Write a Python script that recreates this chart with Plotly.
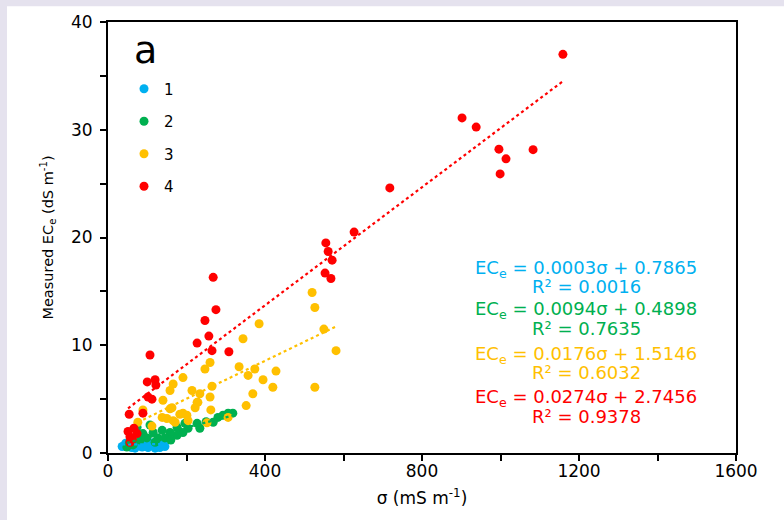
import plotly.graph_objects as go

# Group 1
sigma_1 = [36, 45, 51, 60, 69, 76, 87, 94, 102, 107, 115, 120, 127, 132, 140, 145]
ece_1 = [0.6, 0.9, 0.7, 0.5, 0.45, 0.8, 0.55, 0.85, 0.5, 0.7, 0.95, 0.45, 0.75, 0.5, 0.9, 0.6]

# Group 2
sigma_2 = [306, 318, 293, 280, 268, 227, 204, 191, 176, 158, 138, 115, 89, 99, 127, 145,
           82, 64, 48, 74, 107, 176, 234, 196, 250, 160, 55, 120]
ece_2 = [3.7, 3.7, 3.5, 3.3, 2.85, 2.75, 2.3, 1.9, 1.65, 1.9, 2.1, 1.9, 1.8, 1.4, 1.4, 1.4,
         1.2, 0.75, 0.55, 2.4, 2.6, 2.4, 2.3, 2.75, 2.9, 1.2, 1.0, 1.0]

# Group 3
sigma_3 = [520, 527, 550, 581, 527, 385, 344, 260, 247, 334, 374, 428, 357, 395, 420, 191,
           166, 265, 214, 158, 260, 369, 234, 229, 222, 352, 262, 163, 140, 183, 201, 166,
           252, 306, 89, 76, 112, 138, 204, 171, 158, 191, 227, 150]
ece_3 = [14.9, 13.5, 11.5, 9.5, 6.1, 12.0, 10.6, 8.4, 7.8, 8.0, 7.8, 7.6, 7.2, 6.8, 6.1, 7.0,
         6.4, 6.2, 5.8, 5.8, 5.2, 5.5, 5.5, 4.7, 4.2, 4.4, 4.0, 4.2, 4.9, 3.6, 3.5, 3.0,
         2.8, 3.3, 4.0, 2.85, 2.5, 3.3, 3.0, 2.85, 4.1, 3.7, 4.7, 3.2]

# Group 4
sigma_4 = [1159, 902, 938, 996, 1014, 1083, 999, 718, 627, 555, 561, 571, 553, 568, 268, 275,
           247, 257, 227, 265, 308, 107, 120, 100, 122, 112, 102, 54, 89, 51, 66, 56, 74, 56, 62]
ece_4 = [37.0, 31.1, 30.25, 28.2, 27.3, 28.15, 25.9, 24.6, 20.5, 19.5, 18.7, 17.9, 16.7, 16.2,
         16.3, 13.3, 12.3, 10.85, 10.2, 9.5, 9.4, 9.1, 6.8, 6.6, 6.3, 5.0, 5.2, 3.6, 3.7, 2.0,
         2.3, 1.5, 1.8, 1.0, 1.3]

group_names = ["1", "2", "3", "4"]
slopes = [0.0003, 0.0094, 0.0176, 0.0274]
intercepts = [0.7865, 0.4898, 1.5146, 2.7456]
r_squared = ["0.0016", "0.7635", "0.6032", "0.9378"]

x_tickvals = [0, 200, 400, 600, 800, 1000, 1200, 1400, 1600]
x_ticktext = ["0", "", "400", "", "800", "", "1200", "", "1600"]
y_tickvals = [0, 5, 10, 15, 20, 25, 30, 35, 40]
y_ticktext = ["0", "", "10", "", "20", "", "30", "", "40"]

colors = ["#00B0F0", "#00B050", "#FFC000", "#FF0000"]
FONT = "DejaVu Sans"

groups = [(sigma_1, ece_1), (sigma_2, ece_2), (sigma_3, ece_3), (sigma_4, ece_4)]

fig = go.Figure()

for i, (sx, sy) in enumerate(groups):
    fig.add_trace(go.Scatter(
        x=sx, y=sy, mode="markers", name=group_names[i], legendgroup=group_names[i],
        marker=dict(color=colors[i], size=9, line=dict(width=0)),
    ))

# Linear trendlines drawn over each group's sigma range
for i, (sx, sy) in enumerate(groups):
    x0, x1 = min(sx), max(sx)
    fig.add_trace(go.Scatter(
        x=[x0, x1],
        y=[slopes[i] * x0 + intercepts[i], slopes[i] * x1 + intercepts[i]],
        mode="lines", showlegend=False, hoverinfo="skip",
        line=dict(color=colors[i], width=2.2, dash="dot"),
    ))

# Equation labels
PLOT_L, PLOT_W, PLOT_B, PLOT_H = 108, 628, 453, 435
eq_x = (586 - PLOT_L) / PLOT_W
eq_rows = [(267, 285), (309, 327), (354, 372), (397, 416)]
annotations = []
for i, (y_eq, y_r2) in enumerate(eq_rows):
    annotations.append(dict(
        x=eq_x, y=(PLOT_B - y_eq) / PLOT_H, xref="paper", yref="paper",
        text=f"EC<sub>e</sub> = {slopes[i]:.4f}σ + {intercepts[i]:.4f}",
        showarrow=False, xanchor="center", yanchor="middle",
        font=dict(family=FONT, size=18, color=colors[i]),
    ))
    annotations.append(dict(
        x=eq_x, y=(PLOT_B - y_r2) / PLOT_H, xref="paper", yref="paper",
        text=f"R² = {r_squared[i]}",
        showarrow=False, xanchor="center", yanchor="middle",
        font=dict(family=FONT, size=18, color=colors[i]),
    ))

# Panel letter
annotations.append(dict(
    x=(145 - PLOT_L) / PLOT_W, y=(PLOT_B - 46) / PLOT_H, xref="paper", yref="paper",
    text="a", showarrow=False, xanchor="center", yanchor="middle",
    font=dict(family=FONT, size=38, color="black"),
))

axis_common = dict(
    showline=True, linecolor="black", linewidth=2, mirror=True,
    ticks="outside", ticklen=6, tickwidth=1.5, tickcolor="black",
    showgrid=False, zeroline=False,
    tickfont=dict(family=FONT, size=17, color="black"),
)

fig.update_layout(
    width=784, height=520,
    margin=dict(l=108, r=48, t=18, b=67),
    paper_bgcolor="#E5E2EE",
    plot_bgcolor="white",
    font=dict(family=FONT, color="black"),
    showlegend=True,
    legend=dict(
        x=(124 - PLOT_L) / PLOT_W, y=(PLOT_B - 69) / PLOT_H,
        xanchor="left", yanchor="top",
        font=dict(family=FONT, size=15, color="black"),
        bgcolor="rgba(0,0,0,0)", tracegroupgap=10, itemwidth=30,
    ),
    xaxis=dict(
        range=[0, 1600], tickvals=x_tickvals, ticktext=x_ticktext,
        ticklabelstandoff=-4,
        title=dict(text="σ (mS m<sup>-1</sup>)", font=dict(family=FONT, size=17), standoff=12),
        **axis_common,
    ),
    yaxis=dict(
        range=[0, 40], tickvals=y_tickvals, ticktext=y_ticktext,
        ticklabelstandoff=4,
        title=dict(text="Measured EC<sub>e</sub> (dS m<sup>-1</sup>)",
                   font=dict(family=FONT, size=14.5), standoff=14),
        **axis_common,
    ),
    annotations=annotations,
    shapes=[dict(
        type="rect", xref="paper", yref="paper", layer="below",
        x0=(7 - PLOT_L) / PLOT_W, x1=(790 - PLOT_L) / PLOT_W,
        y0=(PLOT_B - 530) / PLOT_H, y1=(PLOT_B - 2) / PLOT_H,
        fillcolor="white", line=dict(width=0),
    )],
)

fig.write_html("out.html")
